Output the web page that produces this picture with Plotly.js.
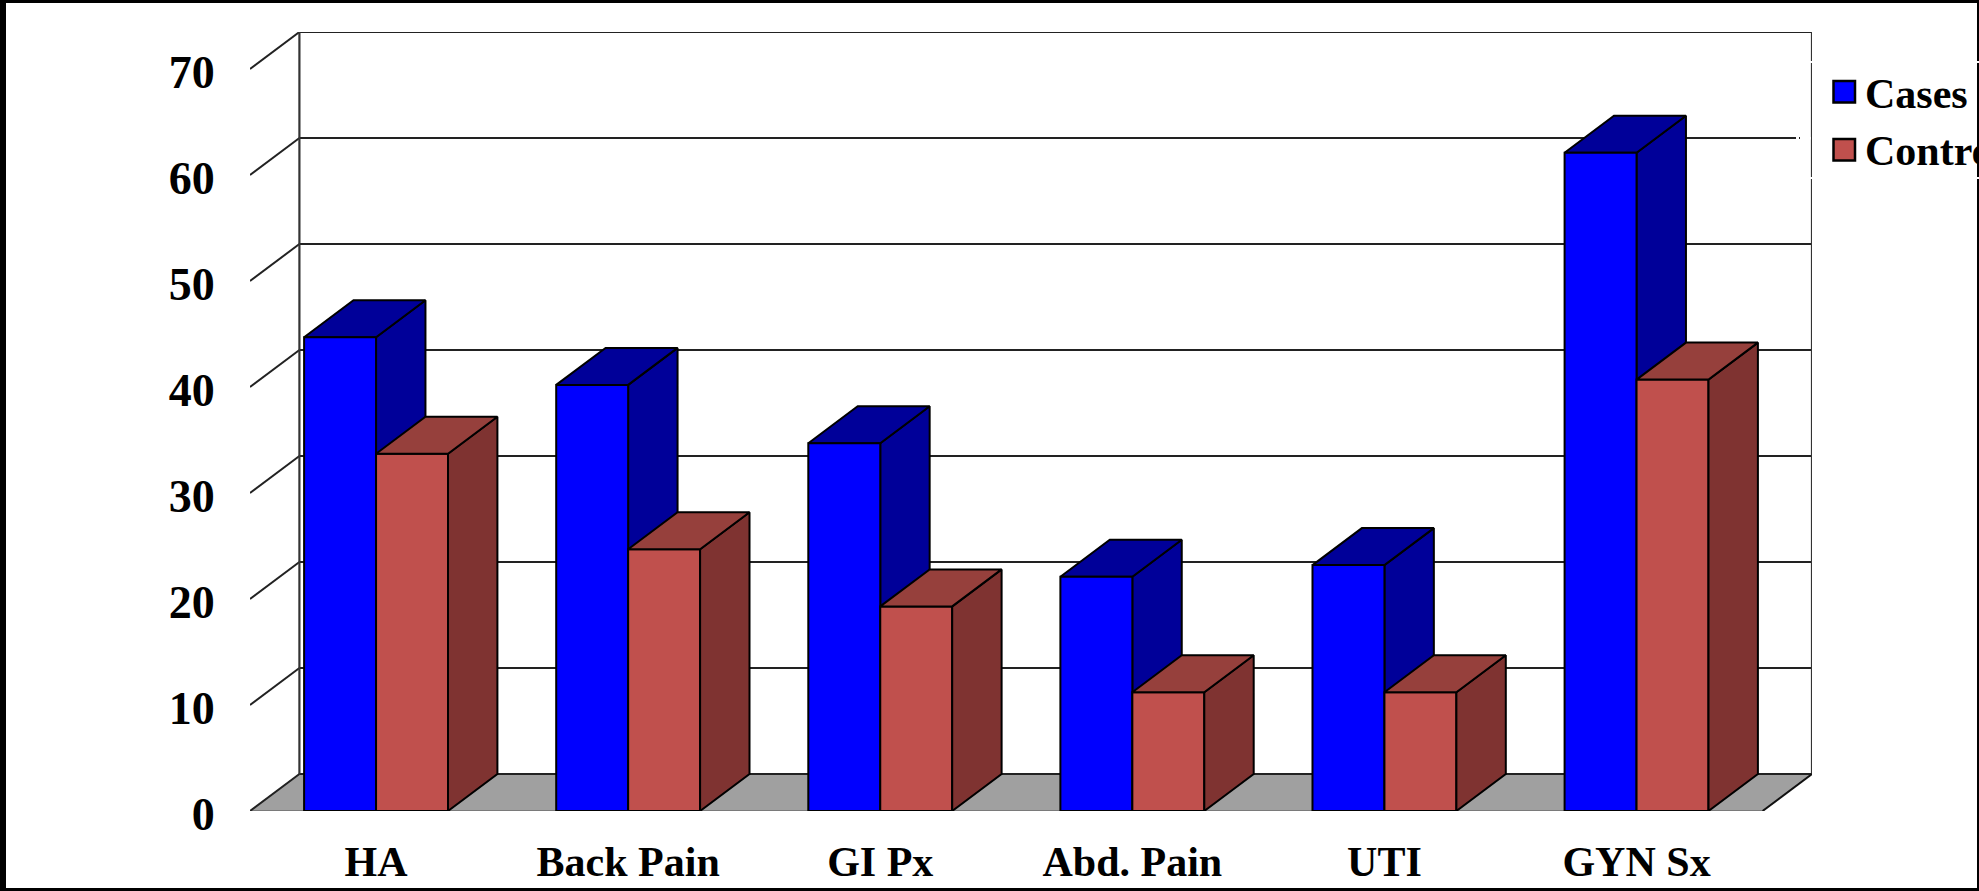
<!DOCTYPE html>
<html>
<head>
<meta charset="utf-8">
<script src="https://cdn.plot.ly/plotly-3.0.1.min.js"></script>
<style>html,body{margin:0;padding:0;background:#fff;overflow:hidden}</style>
</head>
<body>
<div id="chart" style="width:1979px;height:891px"></div>
<script>
const categories = ["HA", "Back Pain", "GI Px", "Abd. Pain", "UTI", "GYN Sx"];
const cases = [44.7, 40.2, 34.7, 22.1, 23.2, 62.1];
const controls = [33.7, 24.7, 19.3, 11.2, 11.2, 40.7];
const seriesNames = ["Cases", "Controls"];
const yTicks = [0, 10, 20, 30, 40, 50, 60, 70];

const W = 1979, H = 891;
const M = {l: 250, r: 167, t: 32, b: 80};
const plotW = W - M.l - M.r, plotH = H - M.t - M.b;
const depthX = 0.196, depthY = 3.49;
const barW = 0.2854;
const xRange = [0, categories.length + depthX];
const yRange = [0, 70 + depthY];
const FONT = "Liberation Serif";
const BLUE = "#0000ff", BLUE_DARK = "#000099";
const RED = "#c0504d", RED_SIDE = "#7f3331", RED_TOP = "#96403c";
const GRID = "#222222", EDGE = "#000000";

const centers = categories.map((_, i) => i + 0.5);

function faces(values, x0) {
  const side = {x: [], y: []}, top = {x: [], y: []};
  values.forEach((v, i) => {
    const l = i + 0.5 + x0, r = l + barW;
    side.x.push(r, r + depthX, r + depthX, r, r, null);
    side.y.push(0, depthY, v + depthY, v, 0, null);
    top.x.push(l, l + depthX, r + depthX, r, l, null);
    top.y.push(v, v + depthY, v + depthY, v, v, null);
  });
  return {side, top};
}
function poly(p, color, axes) {
  return Object.assign({type: "scatter", mode: "lines", x: p.x, y: p.y, fill: "toself",
    fillcolor: color, line: {color: EDGE, width: 2}, hoverinfo: "skip",
    showlegend: false, cliponaxis: false}, axes || {});
}
function lines(x, y, color, width) {
  return {type: "scatter", mode: "lines", x, y, line: {color, width},
    hoverinfo: "skip", showlegend: false, cliponaxis: false};
}

const nC = categories.length;
const floor = {x: [0, nC, nC + depthX, depthX, 0], y: [0, 0, depthY, depthY, 0]};

const gridX = [], gridY = [], sideX = [], sideY = [], frontX = [], frontY = [];
yTicks.forEach(v => {
  gridX.push(depthX, nC + depthX, null); gridY.push(v + depthY, v + depthY, null);
  sideX.push(0, depthX, null); sideY.push(v, v + depthY, null);
  if (v < 70) { frontX.push(-0.004, -0.004, null); frontY.push(v + 0.3, v + 9.95, null); }
});
const bottomX = [], bottomY = [];
categories.forEach((_, i) => { bottomX.push(i + 0.006, i + 0.994, null); bottomY.push(-0.2, -0.2, null); });

const c = faces(cases, -barW), k = faces(controls, 0);
const over = {xaxis: "x2", yaxis: "y2"};

const traces = [
  Object.assign(poly(floor, "#a0a0a0"), {line: {color: "#555555", width: 1}}),
  lines(gridX, gridY, GRID, 2),
  lines(sideX, sideY, GRID, 2),
  lines([depthX, depthX, null, nC + depthX, nC + depthX], [0 + depthY, 70 + depthY, null, depthY, 70 + depthY], "#333333", 2.2),
  lines([nC, nC + depthX], [0, depthY], "#111111", 2),
  lines(frontX, frontY, "#bdbdbd", 2),
  lines(bottomX, bottomY, "#bdbdbd", 2),
  poly(c.side, BLUE_DARK),
  poly(c.top, BLUE_DARK),
  {type: "bar", name: seriesNames[0], x: centers, y: cases, xaxis: "x2", yaxis: "y2",
   width: barW, offset: -barW, marker: {color: BLUE, line: {color: EDGE, width: 2}}, showlegend: false},
  {type: "bar", name: seriesNames[1], x: centers, y: controls, xaxis: "x2", yaxis: "y2",
   width: barW, offset: 0, marker: {color: RED, line: {color: EDGE, width: 2}}, showlegend: false},
  poly(k.side, RED_SIDE, over),
  poly(k.top, RED_TOP, over)
];

const px = x => (x - M.l) / plotW;
const py = y => 1 - (y - M.t) / plotH;
function rect(x0, y0, x1, y1, color, lineColor, lw) {
  return {type: "rect", xref: "paper", yref: "paper", layer: "above",
    x0: px(x0), x1: px(x1), y0: py(y0), y1: py(y1), fillcolor: color,
    line: lineColor ? {color: lineColor, width: lw} : {width: 0}};
}
const shapes = [
  rect(0, 0, 6, H, "#000"), rect(0, 0, W, 3, "#000"),
  rect(1977, 0, W, H, "#000"), rect(0, 888, W, H, "#000"),
  rect(1833.5, 81, 1855, 102.5, BLUE, "#000", 2.5),
  rect(1833.5, 139, 1855, 160.5, RED, "#000", 2.5),
  rect(1808, 61, 1816, 63, "#fff"), rect(1808, 177, 1816, 179, "#fff"),
  rect(1796, 137, 1799, 139.5, "#fff"), rect(1800, 137, 1811, 139.5, "#fff"),
  rect(1977, 61, W, 63, "#fff"), rect(1977, 177, W, 179, "#fff")
];
const legendText = (t, y) => ({xref: "paper", yref: "paper", x: px(1864), y: py(y),
  xanchor: "left", yanchor: "middle", align: "left", width: 113, showarrow: false, text: t,
  borderpad: 0, font: {family: FONT, size: 42, color: "#000", weight: 700}});

const axisBase = {showgrid: false, zeroline: false, showline: false};
const layout = {
  width: W, height: H, margin: {l: M.l, r: M.r, t: M.t, b: M.b, pad: 0, autoexpand: false},
  paper_bgcolor: "#fff", plot_bgcolor: "#fff", showlegend: false, barmode: "overlay",
  hovermode: false, shapes,
  annotations: [legendText(seriesNames[0], 94), legendText(seriesNames[1], 151)],
  xaxis: Object.assign({}, axisBase, {range: xRange, tickmode: "array", tickvals: centers, ticktext: categories,
    ticks: "outside", ticklen: 14, tickcolor: "rgba(0,0,0,0)", tickangle: 0,
    tickfont: {family: FONT, size: 42, color: "#000", weight: 700}}),
  yaxis: Object.assign({}, axisBase, {range: yRange, tickmode: "array", tickvals: yTicks, ticktext: yTicks.map(String),
    ticks: "outside", ticklen: 25, tickcolor: "rgba(0,0,0,0)", ticklabelshift: 3,
    tickfont: {family: FONT, size: 46, color: "#000", weight: 700}}),
  xaxis2: Object.assign({}, axisBase, {range: xRange, overlaying: "x", visible: false}),
  yaxis2: Object.assign({}, axisBase, {range: yRange, overlaying: "y", visible: false})
};
Plotly.newPlot("chart", traces, layout, {displayModeBar: false, staticPlot: true});
</script>
</body>
</html>
